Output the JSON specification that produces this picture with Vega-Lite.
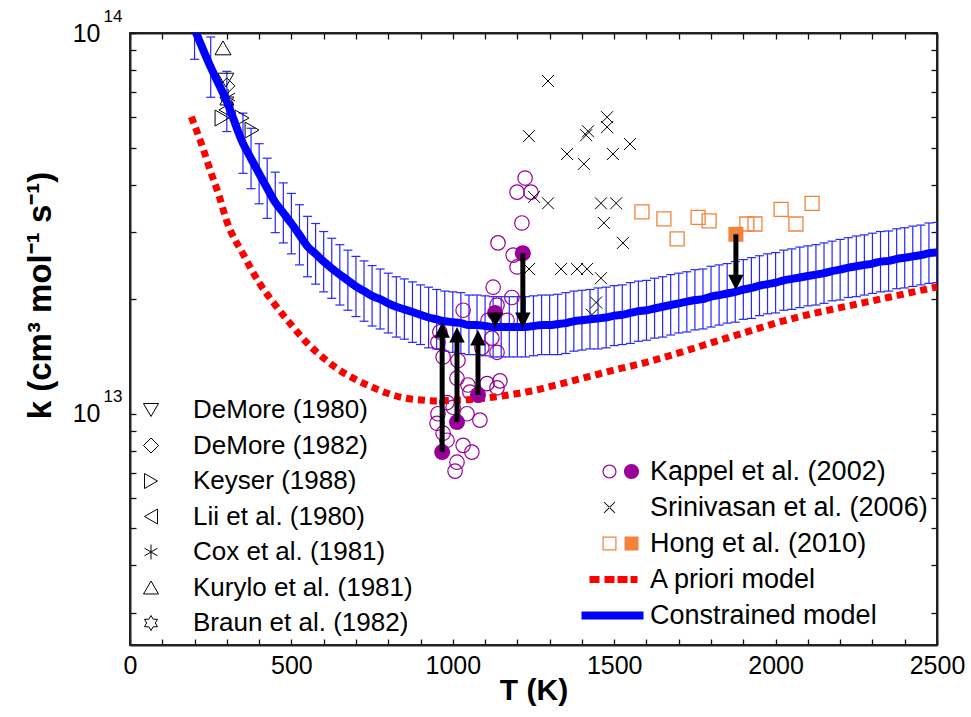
{
"$schema": "https://vega.github.io/schema/vega-lite/v6.json",
"width": 807, "height": 612,
"autosize": {"type": "none"},
"padding": {"left": 130, "top": 33, "right": 34, "bottom": 72},
"background": "white",
"config": {
  "font": "Liberation Sans",
  "view": {"stroke": "#222", "strokeWidth": 2},
  "axis": {"grid": false, "domainColor": "#222", "domainWidth": 2, "tickColor": "#111", "tickWidth": 1.3, "labelColor": "black", "titleColor": "black", "labelOverlap": false, "labelFlush": false, "zindex": 1}
},
"datasets": {
  "errbars": [
    {"T":200,"k":1.023e14,"lo":8.53e13,"hi":1.228e14},{"T":250,"k":8.13e13,"lo":6.78e13,"hi":9.76e13},{"T":300,"k":6.61e13,"lo":5.51e13,"hi":7.93e13},{"T":350,"k":5.13e13,"lo":4.28e13,"hi":6.16e13},{"T":375,"k":4.68e13,"lo":3.90e13,"hi":5.62e13},{"T":400,"k":4.27e13,"lo":3.56e13,"hi":5.12e13},{"T":425,"k":3.91e13,"lo":3.26e13,"hi":4.69e13},{"T":450,"k":3.59e13,"lo":2.99e13,"hi":4.31e13},{"T":475,"k":3.37e13,"lo":2.81e13,"hi":4.04e13},{"T":500,"k":3.16e13,"lo":2.63e13,"hi":3.79e13},
    {"T":525,"k":2.95e13,"lo":2.46e13,"hi":3.54e13},{"T":550,"k":2.75e13,"lo":2.29e13,"hi":3.30e13},{"T":575,"k":2.63e13,"lo":2.19e13,"hi":3.16e13},{"T":600,"k":2.51e13,"lo":2.09e13,"hi":3.01e13},{"T":625,"k":2.41e13,"lo":2.01e13,"hi":2.89e13},{"T":650,"k":2.32e13,"lo":1.93e13,"hi":2.78e13},{"T":675,"k":2.24e13,"lo":1.87e13,"hi":2.69e13},{"T":700,"k":2.16e13,"lo":1.80e13,"hi":2.59e13},{"T":725,"k":2.10e13,"lo":1.75e13,"hi":2.52e13},{"T":750,"k":2.04e13,"lo":1.70e13,"hi":2.45e13},
    {"T":775,"k":2.00e13,"lo":1.67e13,"hi":2.40e13},{"T":800,"k":1.95e13,"lo":1.63e13,"hi":2.34e13},{"T":825,"k":1.91e13,"lo":1.59e13,"hi":2.29e13},{"T":850,"k":1.88e13,"lo":1.57e13,"hi":2.26e13},{"T":875,"k":1.85e13,"lo":1.54e13,"hi":2.22e13},{"T":900,"k":1.82e13,"lo":1.52e13,"hi":2.18e13},{"T":925,"k":1.79e13,"lo":1.49e13,"hi":2.15e13},{"T":950,"k":1.77e13,"lo":1.48e13,"hi":2.12e13},{"T":975,"k":1.75e13,"lo":1.46e13,"hi":2.10e13},{"T":1000,"k":1.74e13,"lo":1.45e13,"hi":2.09e13},
    {"T":1025,"k":1.73e13,"lo":1.44e13,"hi":2.08e13},{"T":1050,"k":1.71e13,"lo":1.43e13,"hi":2.05e13},{"T":1075,"k":1.71e13,"lo":1.43e13,"hi":2.05e13},{"T":1100,"k":1.70e13,"lo":1.42e13,"hi":2.04e13},{"T":1125,"k":1.69e13,"lo":1.41e13,"hi":2.03e13},{"T":1150,"k":1.69e13,"lo":1.41e13,"hi":2.03e13},{"T":1175,"k":1.69e13,"lo":1.41e13,"hi":2.03e13},{"T":1200,"k":1.69e13,"lo":1.41e13,"hi":2.03e13},{"T":1225,"k":1.69e13,"lo":1.41e13,"hi":2.03e13},{"T":1250,"k":1.70e13,"lo":1.42e13,"hi":2.04e13},
    {"T":1275,"k":1.71e13,"lo":1.43e13,"hi":2.05e13},{"T":1300,"k":1.71e13,"lo":1.43e13,"hi":2.05e13},{"T":1325,"k":1.72e13,"lo":1.43e13,"hi":2.06e13},{"T":1350,"k":1.73e13,"lo":1.44e13,"hi":2.08e13},{"T":1375,"k":1.75e13,"lo":1.46e13,"hi":2.10e13},{"T":1400,"k":1.76e13,"lo":1.47e13,"hi":2.11e13},{"T":1425,"k":1.77e13,"lo":1.48e13,"hi":2.12e13},{"T":1450,"k":1.78e13,"lo":1.48e13,"hi":2.14e13},{"T":1475,"k":1.79e13,"lo":1.49e13,"hi":2.15e13},{"T":1500,"k":1.81e13,"lo":1.51e13,"hi":2.17e13},
    {"T":1525,"k":1.82e13,"lo":1.52e13,"hi":2.18e13},{"T":1550,"k":1.84e13,"lo":1.53e13,"hi":2.21e13},{"T":1575,"k":1.86e13,"lo":1.55e13,"hi":2.23e13},{"T":1600,"k":1.87e13,"lo":1.56e13,"hi":2.24e13},{"T":1625,"k":1.89e13,"lo":1.58e13,"hi":2.27e13},{"T":1650,"k":1.91e13,"lo":1.59e13,"hi":2.29e13},{"T":1675,"k":1.93e13,"lo":1.61e13,"hi":2.32e13},{"T":1700,"k":1.95e13,"lo":1.63e13,"hi":2.34e13},{"T":1725,"k":1.97e13,"lo":1.64e13,"hi":2.36e13},{"T":1750,"k":1.99e13,"lo":1.66e13,"hi":2.39e13},
    {"T":1775,"k":2.00e13,"lo":1.67e13,"hi":2.40e13},{"T":1800,"k":2.03e13,"lo":1.69e13,"hi":2.44e13},{"T":1825,"k":2.05e13,"lo":1.71e13,"hi":2.46e13},{"T":1850,"k":2.07e13,"lo":1.73e13,"hi":2.48e13},{"T":1875,"k":2.09e13,"lo":1.74e13,"hi":2.51e13},{"T":1900,"k":2.12e13,"lo":1.77e13,"hi":2.54e13},{"T":1925,"k":2.14e13,"lo":1.78e13,"hi":2.57e13},{"T":1950,"k":2.17e13,"lo":1.81e13,"hi":2.60e13},{"T":1975,"k":2.19e13,"lo":1.83e13,"hi":2.63e13},{"T":2000,"k":2.21e13,"lo":1.84e13,"hi":2.65e13},
    {"T":2025,"k":2.24e13,"lo":1.87e13,"hi":2.69e13},{"T":2050,"k":2.26e13,"lo":1.88e13,"hi":2.71e13},{"T":2075,"k":2.28e13,"lo":1.90e13,"hi":2.74e13},{"T":2100,"k":2.30e13,"lo":1.92e13,"hi":2.76e13},{"T":2125,"k":2.32e13,"lo":1.93e13,"hi":2.78e13},{"T":2150,"k":2.34e13,"lo":1.95e13,"hi":2.81e13},{"T":2175,"k":2.37e13,"lo":1.98e13,"hi":2.84e13},{"T":2200,"k":2.39e13,"lo":1.99e13,"hi":2.87e13},{"T":2225,"k":2.42e13,"lo":2.02e13,"hi":2.90e13},{"T":2250,"k":2.44e13,"lo":2.03e13,"hi":2.93e13},
    {"T":2275,"k":2.46e13,"lo":2.05e13,"hi":2.95e13},{"T":2300,"k":2.48e13,"lo":2.07e13,"hi":2.98e13},{"T":2325,"k":2.51e13,"lo":2.09e13,"hi":3.01e13},{"T":2350,"k":2.52e13,"lo":2.10e13,"hi":3.02e13},{"T":2375,"k":2.55e13,"lo":2.13e13,"hi":3.06e13},{"T":2400,"k":2.57e13,"lo":2.14e13,"hi":3.08e13},{"T":2425,"k":2.59e13,"lo":2.16e13,"hi":3.11e13},{"T":2450,"k":2.61e13,"lo":2.18e13,"hi":3.13e13},{"T":2475,"k":2.64e13,"lo":2.20e13,"hi":3.17e13},{"T":2500,"k":2.65e13,"lo":2.21e13,"hi":3.18e13}
  ],
  "apriori": [
    {"T":190,"k":6.03e13},{"T":225,"k":5.01e13},{"T":250,"k":4.32e13},{"T":275,"k":3.76e13},{"T":300,"k":3.20e13},{"T":350,"k":2.63e13},{"T":400,"k":2.21e13},{"T":450,"k":1.93e13},{"T":500,"k":1.71e13},{"T":550,"k":1.53e13},{"T":600,"k":1.40e13},{"T":650,"k":1.30e13},{"T":700,"k":1.23e13},{"T":750,"k":1.175e13},{"T":800,"k":1.13e13},{"T":850,"k":1.10e13},{"T":900,"k":1.087e13},{"T":950,"k":1.081e13},{"T":1000,"k":1.084e13},{"T":1050,"k":1.089e13},{"T":1100,"k":1.099e13},{"T":1150,"k":1.112e13},{"T":1200,"k":1.13e13},{"T":1250,"k":1.151e13},{"T":1300,"k":1.178e13},{"T":1350,"k":1.208e13},{"T":1400,"k":1.239e13},{"T":1450,"k":1.27e13},{"T":1500,"k":1.303e13},{"T":1600,"k":1.365e13},{"T":1700,"k":1.445e13},{"T":1800,"k":1.535e13},{"T":1900,"k":1.63e13},{"T":2000,"k":1.73e13},{"T":2100,"k":1.82e13},{"T":2200,"k":1.90e13},{"T":2300,"k":1.98e13},{"T":2400,"k":2.065e13},{"T":2500,"k":2.153e13}
  ],
  "lowT": [
    {"T":297,"k":7.52e13,"ref":"DeMore (1980)"},
    {"T":300,"k":7.26e13,"ref":"DeMore (1982)"},
    {"T":285,"k":5.98e13,"ref":"Keyser (1988)"},
    {"T":347,"k":5.98e13,"ref":"Keyser (1988)"},
    {"T":378,"k":5.56e13,"ref":"Keyser (1988)"},
    {"T":297,"k":6.28e13,"ref":"Lii et al. (1980)"},
    {"T":304,"k":6.79e13,"ref":"Cox et al. (1981)"},
    {"T":288,"k":9.14e13,"ref":"Kurylo et al. (1981)"},
    {"T":300,"k":6.63e13,"ref":"Braun et al. (1982)"}
  ],
  "kappel": [
    {"T":1224,"k":4.16e13},{"T":1199,"k":3.82e13},{"T":1242,"k":3.82e13},{"T":1214,"k":3.17e13},{"T":1140,"k":2.81e13},{"T":1187,"k":2.61e13},{"T":1199,"k":2.43e13},{"T":1125,"k":2.15e13},{"T":1183,"k":2.02e13},{"T":1137,"k":1.93e13},
    {"T":1032,"k":1.87e13},{"T":1168,"k":1.76e13},{"T":1109,"k":1.76e13},{"T":960,"k":1.64e13},{"T":1121,"k":1.58e13},{"T":954,"k":1.54e13},{"T":1090,"k":1.49e13},{"T":1137,"k":1.45e13},{"T":970,"k":1.41e13},{"T":1016,"k":1.38e13},
    {"T":1013,"k":1.24e13},{"T":1146,"k":1.22e13},{"T":1106,"k":1.20e13},{"T":1047,"k":1.19e13},{"T":1137,"k":1.17e13},{"T":1053,"k":1.14e13},{"T":982,"k":1.07e13},{"T":1001,"k":1.04e13},{"T":1044,"k":1.00e13},{"T":954,"k":1.00e13},
    {"T":951,"k":9.44e12},{"T":1084,"k":9.62e12},{"T":970,"k":8.89e12},{"T":982,"k":8.52e12},{"T":1032,"k":8.26e12},{"T":1059,"k":7.93e12},{"T":1013,"k":7.46e12},{"T":1007,"k":7.07e12}
  ],
  "kfill": [
    {"T":967,"k":7.93e12},{"T":1013,"k":9.51e12},{"T":1078,"k":1.12e13},{"T":1131,"k":1.84e13},{"T":1217,"k":2.64e13}
  ],
  "srin": [
    {"T":1295,"k":7.48e13},{"T":1236,"k":5.36e13},{"T":1478,"k":6.01e13},{"T":1478,"k":5.66e13},{"T":1419,"k":5.52e13},{"T":1413,"k":5.39e13},{"T":1549,"k":5.11e13},{"T":1354,"k":4.81e13},{"T":1496,"k":4.81e13},{"T":1406,"k":4.53e13},
    {"T":1252,"k":3.71e13},{"T":1295,"k":3.57e13},{"T":1459,"k":3.57e13},{"T":1506,"k":3.57e13},{"T":1468,"k":3.17e13},{"T":1527,"k":2.81e13},{"T":1236,"k":2.40e13},{"T":1335,"k":2.40e13},{"T":1385,"k":2.40e13},{"T":1416,"k":2.40e13},
    {"T":1459,"k":2.27e13},{"T":1444,"k":1.96e13},{"T":1431,"k":1.82e13}
  ],
  "hong": [
    {"T":1586,"k":3.39e13},{"T":1654,"k":3.25e13},{"T":1695,"k":2.88e13},{"T":1760,"k":3.28e13},{"T":1794,"k":3.21e13},{"T":1911,"k":3.15e13},{"T":1936,"k":3.15e13},{"T":2017,"k":3.44e13},{"T":2063,"k":3.15e13},{"T":2113,"k":3.57e13}
  ],
  "hfill": [
    {"T":1877,"k":2.96e13}
  ],
  "arrows": [
    {"T":967,"k0":7.93e12,"kEnd":1.64e13,"tip":1.74e13,"dir":"up"},
    {"T":1013,"k0":9.51e12,"kEnd":1.59e13,"tip":1.69e13,"dir":"up"},
    {"T":1078,"k0":1.12e13,"kEnd":1.56e13,"tip":1.66e13,"dir":"up"},
    {"T":1131,"k0":1.84e13,"kEnd":1.78e13,"tip":1.68e13,"dir":"down"},
    {"T":1217,"k0":2.64e13,"kEnd":1.78e13,"tip":1.68e13,"dir":"down"},
    {"T":1877,"k0":2.96e13,"kEnd":2.24e13,"tip":2.11e13,"dir":"down"}
  ],
  "legend2": [
    {"series":"Kappel et al. (2002)"},{"series":"Srinivasan et al. (2006)"},{"series":"Hong et al. (2010)"},{"series":"A priori model"},{"series":"Constrained model"}
  ]
},
"layer": [
  {
    "encoding": {
      "x": {"field": "T", "type": "quantitative",
        "scale": {"domain": [0, 2500], "nice": false, "zero": false},
        "axis": {"orient": "bottom", "values": [0,100,200,300,400,500,600,700,800,900,1000,1100,1200,1300,1400,1500,1600,1700,1800,1900,2000,2100,2200,2300,2400,2500],
          "labelExpr": "datum.value % 500 == 0 ? format(datum.value, 'd') : ''",
          "tickSize": -6, "labelPadding": 14, "labelFontSize": 25, "labelFont": "Liberation Sans",
          "title": "T (K)", "titleFontSize": 30, "titleFontWeight": "bold", "titlePadding": -3}}
    },
    "layer": [
      {"data": {"name": "errbars"},
       "mark": {"type": "rule", "color": "#2626ff", "strokeWidth": 1.2, "clip": true},
       "encoding": {
         "y": {"field": "lo", "type": "quantitative",
           "scale": {"type": "log", "domain": [2.47e12, 1e14], "nice": false},
           "axis": {"orient": "left", "values": [3e12,4e12,5e12,6e12,7e12,8e12,9e12,1e13,2e13,3e13,4e13,5e13,6e13,7e13,8e13,9e13,1e14],
             "labelExpr": "(datum.value == 1e13 || datum.value == 1e14) ? '10' : ''",
             "tickSize": -6, "labelPadding": 36, "labelFontSize": 25, "labelFont": "Liberation Sans",
             "title": "k (cm³ mol⁻¹ s⁻¹)", "titleFontSize": 33, "titleFontWeight": "bold",
             "titleX": -90, "titleY": 262, "titleAngle": 270, "titleAlign": "center", "titleBaseline": "middle"}},
         "y2": {"field": "hi"}
       }},
      {"data": {"name": "errbars"},
       "mark": {"type": "point", "shape": "M-1,0L1,0", "size": 81, "filled": false, "color": "#2626ff", "strokeWidth": 1.2, "opacity": 1, "clip": true},
       "encoding": {"y": {"field": "lo", "type": "quantitative", "scale": {"type": "log", "domain": [2.47e12, 1e14], "nice": false}}}},
      {"data": {"name": "errbars"},
       "mark": {"type": "point", "shape": "M-1,0L1,0", "size": 81, "filled": false, "color": "#2626ff", "strokeWidth": 1.2, "opacity": 1, "clip": true},
       "encoding": {"y": {"field": "hi", "type": "quantitative", "scale": {"type": "log", "domain": [2.47e12, 1e14], "nice": false}}}},
      {"data": {"name": "lowT"},
       "mark": {"type": "point", "filled": false, "color": "black", "strokeWidth": 1, "size": 256, "opacity": 1, "clip": true},
       "encoding": {
         "y": {"field": "k", "type": "quantitative", "scale": {"type": "log", "domain": [2.47e12, 1e14], "nice": false}},
         "shape": {"field": "ref", "type": "nominal",
           "scale": {"domain": ["DeMore (1980)", "DeMore (1982)", "Keyser (1988)", "Lii et al. (1980)", "Cox et al. (1981)", "Kurylo et al. (1981)", "Braun et al. (1982)"],
             "range": ["triangle-down", "diamond", "triangle-right", "triangle-left", "M0,-1L0,1M-0.87,-0.5L0.87,0.5M-0.87,0.5L0.87,-0.5", "triangle-up", "M0,-1L0.29,-0.5L0.87,-0.5L0.58,0L0.87,0.5L0.29,0.5L0,1L-0.29,0.5L-0.87,0.5L-0.58,0L-0.87,-0.5L-0.29,-0.5Z"]},
           "legend": {"orient": "none", "legendX": 8, "legendY": 364, "title": null, "padding": 0,
             "labelFont": "Liberation Sans", "labelFontSize": 26, "labelColor": "black", "labelLimit": 400, "labelOffset": 29,
             "symbolSize": 225, "symbolStrokeWidth": 1, "symbolStrokeColor": "black", "symbolFillColor": "transparent", "symbolOpacity": 1, "rowPadding": 9.5}}
       }},
      {"data": {"name": "kappel"},
       "mark": {"type": "point", "shape": "circle", "filled": false, "color": "#990099", "strokeWidth": 1.2, "size": 210, "opacity": 1, "clip": true},
       "encoding": {"y": {"field": "k", "type": "quantitative", "scale": {"type": "log", "domain": [2.47e12, 1e14], "nice": false}}}},
      {"data": {"name": "srin"},
       "mark": {"type": "point", "shape": "M-1,-1L1,1M-1,1L1,-1", "filled": false, "color": "black", "strokeWidth": 1, "size": 144, "opacity": 1, "clip": true},
       "encoding": {"y": {"field": "k", "type": "quantitative", "scale": {"type": "log", "domain": [2.47e12, 1e14], "nice": false}}}},
      {"data": {"name": "hong"},
       "mark": {"type": "point", "shape": "square", "filled": false, "color": "#f5823c", "strokeWidth": 1.3, "size": 196, "opacity": 1, "clip": true},
       "encoding": {"y": {"field": "k", "type": "quantitative", "scale": {"type": "log", "domain": [2.47e12, 1e14], "nice": false}}}},
      {"data": {"name": "apriori"},
       "mark": {"type": "line", "color": "#ff0000", "strokeWidth": 7, "strokeDash": [7, 5], "strokeCap": "butt", "interpolate": "monotone", "clip": true},
       "encoding": {"y": {"field": "k", "type": "quantitative", "scale": {"type": "log", "domain": [2.47e12, 1e14], "nice": false}}}},
      {"data": {"name": "errbars"},
       "mark": {"type": "line", "color": "#0000ff", "strokeWidth": 8, "interpolate": "monotone", "clip": true},
       "encoding": {"y": {"field": "k", "type": "quantitative", "scale": {"type": "log", "domain": [2.47e12, 1e14], "nice": false}}}},
      {"data": {"name": "kfill"},
       "mark": {"type": "point", "shape": "circle", "filled": true, "color": "#990099", "size": 256, "opacity": 1, "clip": true},
       "encoding": {"y": {"field": "k", "type": "quantitative", "scale": {"type": "log", "domain": [2.47e12, 1e14], "nice": false}}}},
      {"data": {"name": "hfill"},
       "mark": {"type": "point", "shape": "square", "filled": true, "color": "#f5823c", "size": 225, "opacity": 1, "clip": true},
       "encoding": {"y": {"field": "k", "type": "quantitative", "scale": {"type": "log", "domain": [2.47e12, 1e14], "nice": false}}}},
      {"data": {"name": "arrows"},
       "mark": {"type": "rule", "color": "black", "strokeWidth": 5, "clip": true},
       "encoding": {"y": {"field": "k0", "type": "quantitative", "scale": {"type": "log", "domain": [2.47e12, 1e14], "nice": false}}, "y2": {"field": "kEnd"}}},
      {"data": {"name": "arrows"},
       "transform": [{"filter": "datum.dir == 'up'"}],
       "mark": {"type": "point", "shape": "M0,0L1,2L-1,2Z", "filled": true, "color": "black", "size": 240, "opacity": 1, "clip": true},
       "encoding": {"y": {"field": "tip", "type": "quantitative", "scale": {"type": "log", "domain": [2.47e12, 1e14], "nice": false}}}},
      {"data": {"name": "arrows"},
       "transform": [{"filter": "datum.dir == 'down'"}],
       "mark": {"type": "point", "shape": "M0,0L1,-2L-1,-2Z", "filled": true, "color": "black", "size": 240, "opacity": 1, "clip": true},
       "encoding": {"y": {"field": "tip", "type": "quantitative", "scale": {"type": "log", "domain": [2.47e12, 1e14], "nice": false}}}},
      {"data": {"name": "legend2"},
       "mark": {"type": "point", "filled": true, "opacity": 0},
       "encoding": {
         "x": {"value": 0}, "y": {"value": 0},
         "shape": {"field": "series", "type": "nominal",
           "scale": {"domain": ["Kappel et al. (2002)", "Srinivasan et al. (2006)", "Hong et al. (2010)", "A priori model", "Constrained model"],
             "range": [
               "M-1.8,0A0.7,0.7 0 1,0 -0.4,0A0.7,0.7 0 1,0 -1.8,0Z M-1.68,0A0.58,0.58 0 1,1 -0.52,0A0.58,0.58 0 1,1 -1.68,0Z M0.35,0A0.75,0.75 0 1,0 1.85,0A0.75,0.75 0 1,0 0.35,0Z",
               "M-1.615,-0.585L-0.515,0.515L-0.585,0.585L-1.685,-0.515Z M-1.615,0.585L-0.515,-0.515L-0.585,-0.585L-1.685,0.515Z",
               "M-1.8,-0.7H-0.4V0.7H-1.8Z M-1.68,-0.58V0.58H-0.52V-0.58Z M0.4,-0.7H1.8V0.7H0.4Z",
               "M-3.1,-0.35H-2.1V0.35H-3.1Z M-1.6,-0.35H-0.6V0.35H-1.6Z M-0.3,-0.35H0.7V0.35H-0.3Z M1,-0.35H1.7V0.35H1Z",
               "M-3.9,-0.4H2.3V0.4H-3.9Z"]},
           "legend": {"orient": "none", "legendX": 477, "legendY": 425, "title": null, "padding": 0,
             "labelFont": "Liberation Sans", "labelFontSize": 27, "labelColor": "black", "labelLimit": 400, "labelOffset": 16,
             "symbolSize": 400, "symbolStrokeWidth": 0, "symbolOpacity": 1, "rowPadding": 8}},
         "color": {"field": "series", "type": "nominal",
           "scale": {"domain": ["Kappel et al. (2002)", "Srinivasan et al. (2006)", "Hong et al. (2010)", "A priori model", "Constrained model"],
             "range": ["#990099", "#000000", "#f5823c", "#ff0000", "#0000ff"]},
           "legend": {"orient": "none", "legendX": 477, "legendY": 425, "title": null, "padding": 0,
             "labelFont": "Liberation Sans", "labelFontSize": 27, "labelColor": "black", "labelLimit": 400, "labelOffset": 16,
             "symbolSize": 400, "symbolStrokeWidth": 0, "symbolOpacity": 1, "rowPadding": 8}}
       }}
    ],
    "resolve": {"scale": {"shape": "independent", "color": "independent"}}
  },
  {
    "data": {"name": "errbars"},
    "mark": {"type": "point", "opacity": 0},
    "encoding": {
      "x": {"field": "T", "type": "quantitative",
        "scale": {"domain": [0, 2500], "nice": false, "zero": false},
        "axis": {"orient": "top", "labels": false, "title": null, "tickSize": -6,
          "values": [0,100,200,300,400,500,600,700,800,900,1000,1100,1200,1300,1400,1500,1600,1700,1800,1900,2000,2100,2200,2300,2400,2500]}},
      "y": {"field": "k", "type": "quantitative",
        "scale": {"type": "log", "domain": [2.47e12, 1e14], "nice": false},
        "axis": {"orient": "right", "labels": false, "title": null, "tickSize": -6,
          "values": [3e12,4e12,5e12,6e12,7e12,8e12,9e12,1e13,2e13,3e13,4e13,5e13,6e13,7e13,8e13,9e13,1e14]}}
    }
  },
  {
    "data": {"name": "errbars"},
    "mark": {"type": "point", "opacity": 0},
    "encoding": {
      "y": {"field": "k", "type": "quantitative",
        "scale": {"type": "log", "domain": [2.47e12, 1e14], "nice": false},
        "axis": {"orient": "left", "values": [1e13, 1e14], "labelExpr": "datum.value == 1e13 ? '13' : '14'",
          "ticks": false, "tickSize": 0, "domain": false, "labelPadding": 8, "labelFontSize": 17, "labelFont": "Liberation Sans", "labelOffset": -17, "title": null}}
    }
  }
],
"resolve": {"scale": {"x": "independent", "y": "independent"}}
}
